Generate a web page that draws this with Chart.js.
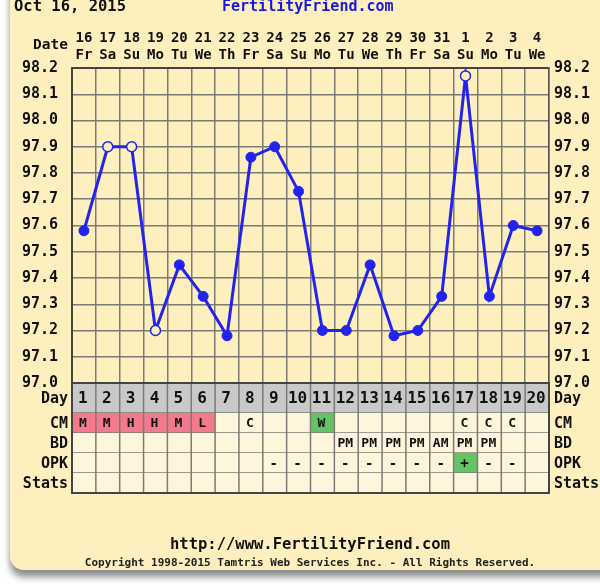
<!DOCTYPE html>
<html>
<head>
<meta charset="utf-8">
<script src="https://cdn.jsdelivr.net/npm/chart.js@4.4.1/dist/chart.umd.min.js"></script>
<style>
  body { margin: 0; background: #fff; width: 600px; height: 584px; overflow: hidden; position: relative; font-family: "DejaVu Sans Mono", monospace; }
  #panel { position: absolute; left: 10px; top: -20px; width: 610px; height: 590px; background: #fdf0be; border-radius: 14px; box-shadow: 0 7px 7px rgba(0,0,0,0.45); }
  #chart { position: absolute; left: 0; top: 0; }
  .txt { position: absolute; font-weight: bold; white-space: nowrap; }
</style>
</head>
<body>
<div id="panel"></div>
<canvas id="chart" width="600" height="584"></canvas>
<div class="txt" style="left:14px; top:-3px; font-size:15.5px; color:#111;">Oct 16, 2015</div>
<div class="txt" style="left:222px; top:-3px; font-size:15px; color:#1a1ae0;">FertilityFriend.com</div>
<div class="txt" style="left:0; width:620px; text-align:center; top:535px; font-size:15.5px; color:#111;">http://www.FertilityFriend.com</div>
<div class="txt" style="left:0; width:620px; text-align:center; top:556px; font-size:11px; color:#222;">Copyright 1998-2015 Tamtris Web Services Inc. - All Rights Reserved.</div>
<script>
// 날짜 / 요일 (위쪽 축)
const dates = ['16','17','18','19','20','21','22','23','24','25','26','27','28','29','30','31','1','2','3','4'];
const weekdays = ['Fr','Sa','Su','Mo','Tu','We','Th','Fr','Sa','Su','Mo','Tu','We','Th','Fr','Sa','Su','Mo','Tu','We'];

// 주기 일차
const cycleDays = [1,2,3,4,5,6,7,8,9,10,11,12,13,14,15,16,17,18,19,20];

// 기초체온
const temps = [97.58, 97.9, 97.9, 97.2, 97.45, 97.33, 97.18, 97.86, 97.9, 97.73,
               97.2, 97.2, 97.45, 97.18, 97.2, 97.33, 98.17, 97.33, 97.6, 97.58];
// 제외된 체온 (빈 원)
const discarded = [false, true, true, true, false, false, false, false, false, false,
                   false, false, false, false, false, false, true, false, false, false];

// 눈금
const tempTicks = [97.0, 97.1, 97.2, 97.3, 97.4, 97.5, 97.6, 97.7, 97.8, 97.9, 98.0, 98.1, 98.2];

// 표 데이터
const cmRow  = ['M','M','H','H','M','L','','C','','','W','','','','','','C','C','C',''];
const bdRow  = ['','','','','','','','','','','','PM','PM','PM','PM','AM','PM','PM','',''];
const opkRow = ['','','','','','','','','-','-','-','-','-','-','-','-','+','-','-',''];
const statsRow = ['','','','','','','','','','','','','','','','','','','',''];

const BLUE = '#2323f0';
const PINK = '#f27a8c';
const GREEN = '#62c462';
const GRID = '#7c7a74';
const FONT = '"DejaVu Sans Mono", monospace';

// 표 그리기 플러그인
const tablePlugin = {
    id: 'ffTable',
    afterDraw(chart) {
        const ctx = chart.ctx;
        const a = chart.chartArea;
        const n = cycleDays.length;
        const w = (a.right - a.left) / n;

        const rows = [
            { name: 'Day',   h: 30, vals: cycleDays, size: 16, fill: () => '#c9c9c9' },
            { name: 'CM',    h: 20, vals: cmRow,  size: 13, fill: v => ({M: PINK, H: PINK, L: PINK, W: GREEN})[v] || '#fdf5dc' },
            { name: 'BD',    h: 20, vals: bdRow,  size: 13, fill: () => '#fdf5dc' },
            { name: 'OPK',   h: 20, vals: opkRow, size: 14, fill: v => v === '+' ? GREEN : '#fdf5dc' },
            { name: 'Stats', h: 20, vals: statsRow, size: 13, fill: () => '#fdf5dc' }
        ];

        ctx.save();
        let top = a.bottom;
        rows.forEach(row => {
            // 셀 배경 + 글자
            for (let i = 0; i < n; i++) {
                const x0 = a.left + i * w;
                ctx.fillStyle = row.fill(row.vals[i]);
                ctx.fillRect(x0, top, w, row.h);
                if (row.vals[i] !== '') {
                    ctx.fillStyle = '#111';
                    ctx.font = 'bold ' + row.size + 'px ' + FONT;
                    ctx.textAlign = 'center';
                    ctx.textBaseline = 'middle';
                    ctx.fillText(String(row.vals[i]), x0 + w / 2 - 1, top + row.h / 2 + 1);
                }
            }
            // 행 이름 (양쪽)
            ctx.fillStyle = '#111';
            ctx.font = 'bold 15px ' + FONT;
            ctx.textBaseline = 'middle';
            ctx.textAlign = 'right';
            ctx.fillText(row.name, a.left - 4, top + row.h / 2 + 1);
            ctx.textAlign = 'left';
            ctx.fillText(row.name, a.right + 5, top + row.h / 2 + 1);

            // 가로선
            ctx.strokeStyle = GRID;
            ctx.lineWidth = 1.5;
            ctx.beginPath();
            ctx.moveTo(a.left, top + row.h);
            ctx.lineTo(a.right, top + row.h);
            ctx.stroke();
            top += row.h;
        });

        // 세로선
        for (let i = 1; i < n; i++) {
            const x0 = a.left + i * w;
            ctx.beginPath();
            ctx.moveTo(x0, a.bottom);
            ctx.lineTo(x0, top);
            ctx.stroke();
        }
        // 테두리
        ctx.strokeStyle = '#444';
        ctx.lineWidth = 2;
        ctx.strokeRect(a.left, a.bottom, a.right - a.left, top - a.bottom);

        // Date 라벨
        ctx.fillStyle = '#111';
        ctx.font = 'bold 14.5px ' + FONT;
        ctx.textAlign = 'right';
        ctx.textBaseline = 'middle';
        ctx.fillText('Date', a.left - 4, 45);
        ctx.restore();
    }
};

new Chart(document.getElementById('chart'), {
    type: 'line',
    data: {
        labels: dates.map((d, i) => [d, weekdays[i]]),
        datasets: [{
            data: temps,
            borderColor: BLUE,
            borderWidth: 3,
            tension: 0,
            pointRadius: 5,
            pointHoverRadius: 5,
            pointBorderWidth: discarded.map(d => d ? 1.5 : 1),
            pointBorderColor: BLUE,
            pointBackgroundColor: discarded.map(d => d ? '#fdf0be' : BLUE)
        }]
    },
    options: {
        responsive: false,
        animation: false,
        devicePixelRatio: 1,
        layout: { padding: { left: 0, right: 0, top: 0, bottom: 201 } },
        plugins: {
            legend: { display: false },
            tooltip: { enabled: false }
        },
        scales: {
            x: {
                position: 'top',
                offset: true,
                grid: { offset: true, color: GRID, lineWidth: 1.5, drawTicks: false },
                border: { color: '#444', width: 2 },
                ticks: {
                    color: '#111',
                    padding: 4,
                    maxRotation: 0,
                    autoSkip: false,
                    font: { family: FONT, size: 14, weight: 'bold', lineHeight: 1.2 }
                },
                afterFit: s => { s.height = 68; }
            },
            y: {
                position: 'left',
                min: 97.0,
                max: 98.2,
                grid: { color: GRID, lineWidth: 1.5, drawTicks: false },
                border: { color: '#444', width: 2 },
                afterBuildTicks: s => { s.ticks = tempTicks.map(v => ({ value: v })); },
                ticks: {
                    color: '#111',
                    padding: 14,
                    font: { family: FONT, size: 15, weight: 'bold' },
                    callback: v => v.toFixed(1)
                },
                afterFit: s => { s.width = 72; }
            },
            y2: {
                position: 'right',
                min: 97.0,
                max: 98.2,
                grid: { display: false, drawTicks: false },
                border: { color: '#555', width: 1.5 },
                afterBuildTicks: s => { s.ticks = tempTicks.map(v => ({ value: v })); },
                ticks: {
                    color: '#111',
                    padding: 5,
                    font: { family: FONT, size: 15, weight: 'bold' },
                    callback: v => v.toFixed(1)
                },
                afterFit: s => { s.width = 51; }
            }
        }
    },
    plugins: [tablePlugin]
});
</script>
</body>
</html>
